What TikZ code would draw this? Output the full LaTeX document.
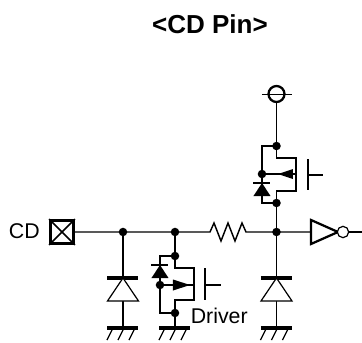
\documentclass[tikz,border=0pt]{standalone}
\usepackage{fontspec}
\setmainfont{Liberation Sans}
\tikzset{
  wire/.style={line width=1.1pt,line join=miter},
  thick bar/.style={line width=3pt},
  thin wire/.style={line width=0.9pt},
  dot/.style={circle,fill=black,inner sep=0pt,minimum size=6.4pt},
  lbl/.style={inner sep=0pt,font=\fontsize{16}{18}\selectfont},
  gnd/.pic={
    \draw[thick bar] (-15.5,0) -- (15.5,0);
    \foreach \d in {-10,1,12} \draw[thin wire] (\d,0) -- (\d-6,12);
  },
  clamp/.pic={
    \draw[thick bar] (-15.5,0) -- (15.5,0);
    \draw[thin wire,line join=miter,fill=white] (0,0) -- (15.5,23) -- (-15.5,23) -- cycle;
  },
  fdiode/.pic={
    \draw[thin wire] (-8.5,0) -- (8.5,0);
    \fill (0,0) -- (8.5,13) -- (-8.5,13) -- cycle;
  }
}
\begin{document}
\begin{tikzpicture}[x=0.75pt,y=-0.75pt]
\useasboundingbox (0,0) rectangle (362,343);
% title
\node[inner sep=0pt,font=\fontsize{19.5}{22}\selectfont\bfseries] (title) at (210,24) {<CD Pin>};
% coordinates
\coordinate (pad) at (74,232);
\coordinate (j1) at (123,232);
\coordinate (j2) at (175,232);
\coordinate (rl) at (208,232);
\coordinate (rr) at (250,232);
\coordinate (j3) at (276.5,232);
\coordinate (inv) at (311,232);
\coordinate (outp) at (362,232);
\coordinate (vdd) at (276.5,94);
% main wire
\draw[wire] (pad) -- (j1) -- (j2) -- (rl)
  -- ++(2,0) -- ++(4,-9) -- ++(7,18) -- ++(7,-18) -- ++(7,18) -- ++(7,-18) -- ++(4,9) -- (rr) -- (j3) -- (inv);
\draw[wire] (349,232) -- (outp);
% pad
\node[draw,line width=2.4pt,minimum size=17pt,inner sep=0pt,anchor=center] (padbox) at (62,232) {};
\draw[wire] (padbox.north west) -- (padbox.south east);
\draw[wire] (padbox.north east) -- (padbox.south west);
\node[lbl,anchor=east] (cd) at (40,231) {CD};
% diode 1
\draw[wire] (j1) -- (123,328);
\pic at (123,278) {clamp};
\pic at (123,328) {gnd};
\node[dot] at (j1) {};
% NMOS
\draw[wire] (j2) -- (175,268) -- (194,268) -- (194,300) -- (175,300) -- (175,328);
\draw[wire] (175,256) -- (160,256) -- (160,313) -- (175,313);
\draw[wire] (160,285) -- (194,285);
\pic at (160,265) {fdiode};
\fill (190,285) -- (173,279.5) -- (173,290.5) -- cycle;
\node[dot] at (j2) {};
\node[dot] at (175,256) {};
\node[dot] at (175,313) {};
\node[dot] at (160,285) {};
\draw[thin wire] (205,268) -- (205,300) (205,285) -- (221,285);
\pic at (175,328) {gnd};
\node[lbl,anchor=west] (drv) at (190.5,316) {Driver};
% PMOS
\node[draw,circle,line width=1.7pt,minimum size=12pt,inner sep=0pt] (vc) at (vdd) {};
\draw[thin wire] (262,94.5) -- (292,94.5);
\draw[wire] (vc.south) -- (276.5,158) -- (296,158) -- (296,191) -- (276.5,191) -- (j3);
\draw[wire] (276.5,146) -- (262,146) -- (262,203) -- (276.5,203);
\draw[wire] (262,174) -- (296,174);
\pic at (262,183) {fdiode};
\fill (278,174) -- (293,169) -- (293,179) -- cycle;
\node[dot] at (276.5,146) {};
\node[dot] at (262,174) {};
\node[dot] at (276.5,203) {};
\draw[thin wire] (308,159) -- (308,190) (308,175) -- (323,175);
% diode 2
\draw[wire] (j3) -- (276.5,328);
\pic at (276.5,278) {clamp};
\pic at (276.5,328) {gnd};
\node[dot] at (j3) {};
% inverter
\draw[wire,line width=1.7pt,fill=white] (inv) ++(0,-12) -- (338,232) -- (311,244) -- cycle;
\node[draw,circle,line width=0.9pt,minimum size=8.5pt,inner sep=0pt,fill=white] (bub) at (343,232) {};
\end{tikzpicture}
\end{document}
